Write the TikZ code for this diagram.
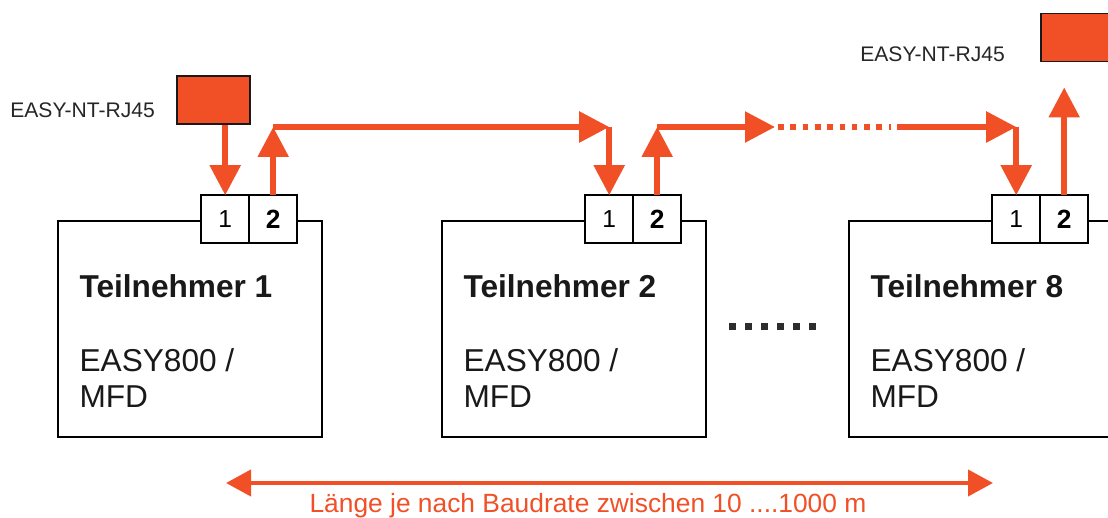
\documentclass[tikz,border=0pt]{standalone}
\usepackage{fontspec}
\setmainfont{Liberation Sans}
\usetikzlibrary{arrows.meta,positioning}
\definecolor{netz}{RGB}{241,79,38}
\definecolor{punkt}{RGB}{45,45,45}

\begin{document}
\begin{tikzpicture}[
  >={Triangle[length=0.6cm,width=0.6cm]},
  box/.style={draw, line width=0.9pt, minimum width=5.28cm,
              minimum height=4.32cm, inner sep=0pt},
  port/.style={draw, line width=0.9pt, fill=white, minimum size=0.96cm,
               inner sep=0pt, outer sep=0pt, font=\fontsize{14}{16}\selectfont},
  modul/.style={draw=black!90, line width=1.1pt, fill=netz,
                minimum width=1.46cm, minimum height=0.96cm},
  lbl/.style={font=\fontsize{12}{14}\selectfont, text=black!85, inner sep=0pt},
  titel/.style={font=\bfseries\fontsize{18}{21}\selectfont, text=black!90,
                anchor=base west, inner sep=0pt},
  typ/.style={font=\fontsize{18}{20.4}\selectfont, text=black!90, align=left,
              anchor=base west, inner sep=0pt},
  sig/.style={->, netz, line width=3.1pt},
  arr/.style={{Triangle[length=0.5cm,width=0.52cm]}-{Triangle[length=0.5cm,width=0.52cm]},
              netz, line width=2.3pt}
]
\useasboundingbox (0,0) rectangle (22.16,10.36);

%% Teilnehmer with ports 1 and 2
\foreach \b/\n/\x in {1/1/3.80, 2/2/11.48, 3/8/19.62}{
  \node[box] (b\b) at (\x,3.78) {};
  \node[port] (p\b1) at ([xshift=3.36cm, yshift=0.02cm]b\b.north west) {1};
  \node[port, right=0pt of p\b1, font=\bfseries\fontsize{15}{17}\selectfont] (p\b2) {2};
  \node[titel] (t\b) at ([xshift=0.44cm, yshift=-1.54cm]b\b.north west) {Teilnehmer \n};
  \node[typ] (g\b) at ([xshift=0.44cm, yshift=-3.74cm]b\b.north west) {EASY800 /\\MFD};
}

%% EASY-NT-RJ45 terminators
\node[modul] (m1) at (4.27,8.36) {};
\node[modul] (m3) at (21.55,9.61) {};
\node[lbl, anchor=west] (l1) at (0.2,8.16) {EASY-NT-RJ45};
\node[lbl, anchor=west] (l3) at (17.2,9.27) {EASY-NT-RJ45};

%% Bus line
\coordinate (c1) at (p12.north |- 0,7.82);
\coordinate (c2) at (p21.north |- c1);
\coordinate (c3) at (p22.north |- c1);
\coordinate (c4) at (p31.north |- c1);
\coordinate (d1) at (15.56,7.82);
\coordinate (d2) at (17.82,7.82);

\draw[sig] (m1.south -| p11.north) -- (p11.north);
\draw[sig] (p12.north) -- (c1);
\draw[sig] (c1) -- (c2);
\draw[sig] (c2) -- (p21.north);
\draw[sig] (p22.north) -- (c3);
\draw[sig] (c3) -- ([xshift=-0.06cm]d1);
\draw[netz, line width=3.1pt, dash pattern=on 3.2pt off 3.8pt] (d1) -- (d2);
\draw[sig] ([xshift=0.12cm]d2) -- (c4);
\draw[sig] (c4) -- (p31.north);
\draw[sig] (p32.north) -- ([yshift=-0.5cm]m3.south -| p32.north);

%% more Teilnehmer
\foreach \i in {0,...,5}
  \fill[punkt] (14.58+0.32*\i,3.75) rectangle ++(0.14,0.14);

%% Leitungslaenge
\coordinate (a1) at (4.52,0.70);
\coordinate (a2) at (19.86,0.70);
\draw[arr] (a1) -- (a2);
\node[font=\fontsize{15}{18}\selectfont, text=netz, anchor=base] (laenge) at (11.76,0.10)
  {Länge je nach Baudrate zwischen 10 ....1000 m};

\end{tikzpicture}
\end{document}
